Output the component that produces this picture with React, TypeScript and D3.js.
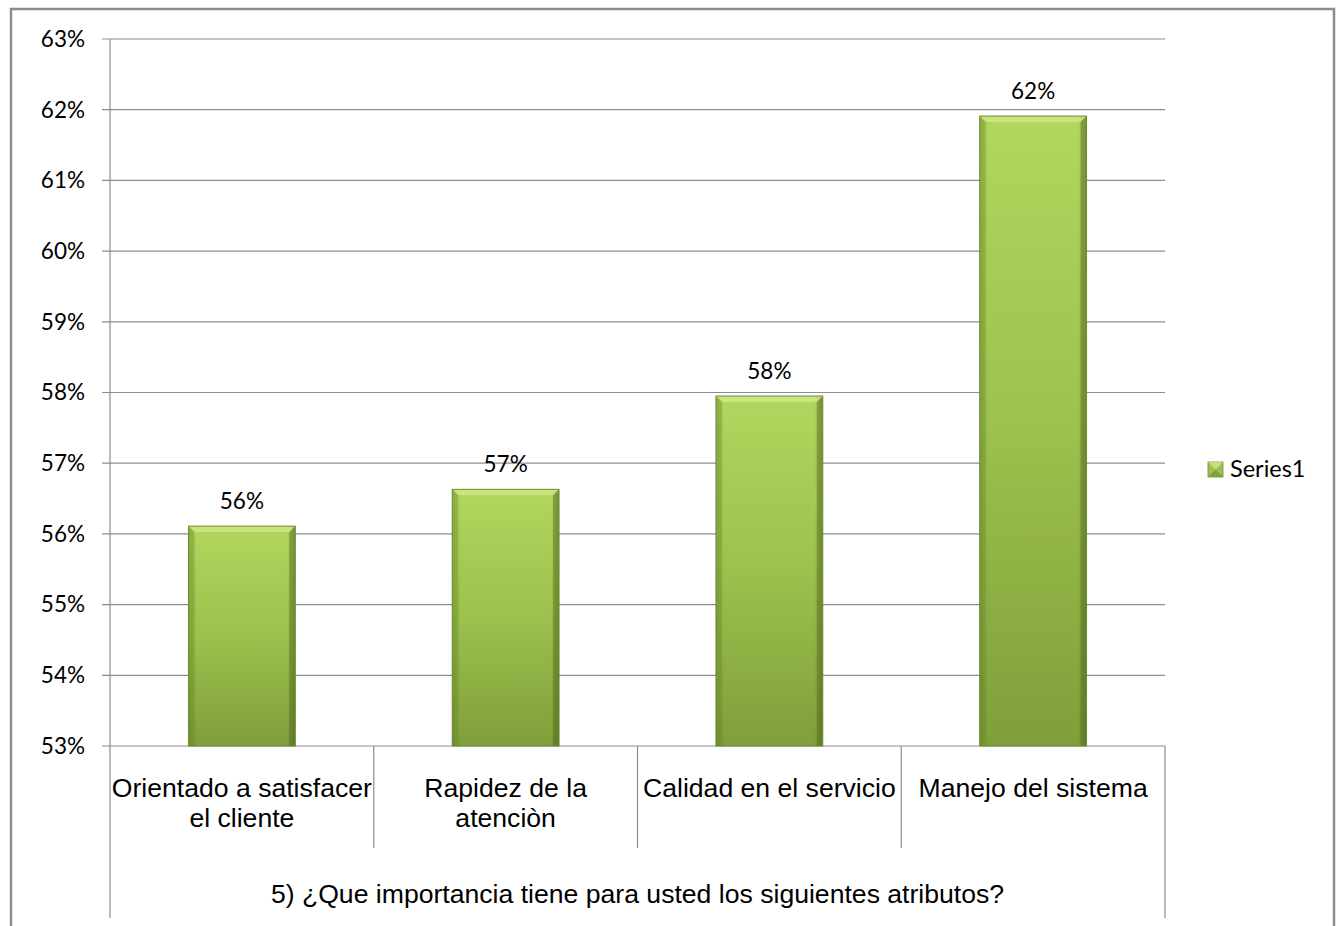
import * as d3 from "d3";

const categories = [
  ["Orientado a satisfacer", "el cliente"],
  ["Rapidez de la", "atenciòn"],
  ["Calidad en el servicio"],
  ["Manejo del sistema"],
];
const values = [0.5611, 0.5663, 0.5795, 0.6191];
const valueLabels = ["56%", "57%", "58%", "62%"];
const yTicks = [0.53, 0.54, 0.55, 0.56, 0.57, 0.58, 0.59, 0.6, 0.61, 0.62, 0.63];
const groupLabel = "5) ¿Que importancia tiene para usted los siguientes atributos?";
const seriesName = "Series1";

const W = 1340;
const H = 926;
const plot = { left: 110, right: 1165, top: 39, bottom: 746 };
const calibri = "Lato, 'Noto Sans', sans-serif";
const arial = "'Liberation Sans', Arial, sans-serif";

export default function App() {
  const x = d3
    .scaleBand<number>()
    .domain(d3.range(categories.length))
    .range([plot.left, plot.right])
    .paddingInner(0.595)
    .paddingOuter(0.2975);
  const y = d3.scaleLinear().domain([0.53, 0.63]).range([plot.bottom, plot.top]);
  const bw = x.bandwidth();
  const step = x.step();
  const bev = 6;

  return (
    <svg
      width={W}
      height={H}
      style={{ position: "absolute", left: 0, top: 0, background: "#fff" }}
    >
      <defs>
        <linearGradient id="barFill" x1="0" y1="0" x2="0" y2="1">
          <stop offset="0" stopColor="#b2d75e" />
          <stop offset="0.5" stopColor="#9cc14d" />
          <stop offset="1" stopColor="#7f9f3a" />
        </linearGradient>
        <linearGradient id="sideShade" x1="0" y1="0" x2="1" y2="0">
          <stop offset="0" stopColor="#000" stopOpacity="0.12" />
          <stop offset="0.08" stopColor="#000" stopOpacity="0" />
          <stop offset="0.92" stopColor="#000" stopOpacity="0" />
          <stop offset="1" stopColor="#000" stopOpacity="0.18" />
        </linearGradient>
      </defs>

      {/* outer chart border */}
      <path
        d={`M11,${H} L11,9 L1334,9 L1334,${H}`}
        fill="none"
        stroke="#8c8c8c"
        strokeWidth={2.5}
      />

      {/* gridlines + y ticks */}
      {yTicks.map((t) => (
        <g key={t}>
          <line
            x1={plot.left - 8}
            x2={plot.right}
            y1={y(t)}
            y2={y(t)}
            stroke="#8c8c8c"
            strokeWidth={1.2}
          />
          <text
            x={85}
            y={y(t)}
            dy="0.35em"
            textAnchor="end"
            fontFamily={calibri}
            fontSize={22.5}
            fill="#000"
          >
            {d3.format(".0%")(t)}
          </text>
        </g>
      ))}

      {/* axis lines */}
      <line x1={plot.left} x2={plot.left} y1={plot.top} y2={918} stroke="#8c8c8c" strokeWidth={1.2} />
      <line x1={plot.right} x2={plot.right} y1={plot.bottom} y2={918} stroke="#8c8c8c" strokeWidth={1.2} />
      {d3.range(1, categories.length).map((i) => (
        <line
          key={i}
          x1={plot.left + step * i}
          x2={plot.left + step * i}
          y1={plot.bottom}
          y2={848}
          stroke="#8c8c8c"
          strokeWidth={1.2}
        />
      ))}

      {/* bars */}
      {values.map((v, i) => {
        const x0 = x(i)!;
        const y0 = y(v);
        const x1 = x0 + bw;
        const y1 = plot.bottom;
        return (
          <g key={i}>
            <rect x={x0} y={y0} width={bw} height={y1 - y0} fill="url(#barFill)" />
            <rect x={x0} y={y0} width={bw} height={y1 - y0} fill="url(#sideShade)" />
            <polygon
              points={`${x0},${y0} ${x1},${y0} ${x1 - bev},${y0 + bev} ${x0 + bev},${y0 + bev}`}
              fill="#d2ec8a"
              opacity={0.7}
            />
            <polygon
              points={`${x0},${y0} ${x0 + bev},${y0 + bev} ${x0 + bev},${y1} ${x0},${y1}`}
              fill="#6e8c2c"
              opacity={0.35}
            />
            <polygon
              points={`${x1},${y0} ${x1 - bev},${y0 + bev} ${x1 - bev},${y1} ${x1},${y1}`}
              fill="#55701c"
              opacity={0.45}
            />
            <rect
              x={x0}
              y={y0}
              width={bw}
              height={y1 - y0}
              fill="none"
              stroke="#6f8a30"
              strokeWidth={1}
            />
            <text
              x={x0 + bw / 2}
              y={y0 - 17}
              textAnchor="middle"
              fontFamily={calibri}
              fontSize={22.5}
              fill="#000"
            >
              {valueLabels[i]}
            </text>
          </g>
        );
      })}

      {/* category labels */}
      {categories.map((lines, i) => (
        <text
          key={i}
          x={plot.left + step * (i + 0.5)}
          y={797}
          textAnchor="middle"
          fontFamily={arial}
          fontSize={26.6}
          fill="#000"
        >
          {lines.map((l, j) => (
            <tspan key={j} x={plot.left + step * (i + 0.5)} dy={j === 0 ? 0 : 30}>
              {l}
            </tspan>
          ))}
        </text>
      ))}

      {/* group label */}
      <text
        x={(plot.left + plot.right) / 2}
        y={903}
        textAnchor="middle"
        fontFamily={arial}
        fontSize={26.6}
        fill="#000"
      >
        {groupLabel}
      </text>

      {/* legend */}
      <g>
        <rect x={1208} y={462} width={15} height={15} fill="#9cc14d" stroke="#6f8a30" strokeWidth={0.8} />
        <polygon points="1208,462 1223,462 1215.5,469.5" fill="#c3e07a" />
        <polygon points="1208,477 1223,477 1215.5,469.5" fill="#7f9f3a" />
        <text x={1230} y={477} fontFamily={calibri} fontSize={23.5} fill="#000">
          {seriesName}
        </text>
      </g>
    </svg>
  );
}
